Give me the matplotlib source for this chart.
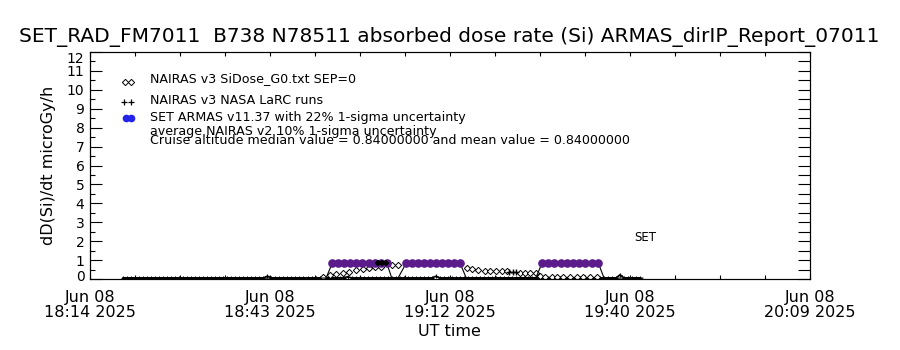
import numpy as np
import matplotlib
matplotlib.use("Agg")
import matplotlib.pyplot as plt
from matplotlib.ticker import MultipleLocator
from matplotlib.transforms import ScaledTranslation

# time in minutes after 18:14 UT, Jun 08 2025
tick_pos = [0, 28.75, 57.5, 86.25, 115]
tick_labels = ["Jun 08\n18:14 2025", "Jun 08\n18:43 2025", "Jun 08\n19:12 2025",
               "Jun 08\n19:40 2025", "Jun 08\n20:09 2025"]

# SET ARMAS v11.37 (1 min cadence, near zero outside the three cruise legs)
armas_t = [5.3, 37.7, 38.7, 39.6, 40.6, 41.5, 42.5, 43.5, 44.6, 45.5, 46.5, 47.4, 48.2,
           49.2, 50.5, 51.4, 52.4, 53.4, 54.3, 55.3, 56.2, 57.2, 58.1, 59.1, 60.1,
           71.2, 72.2, 73.2, 74.1, 75.2, 76.2, 77.2, 78.1, 79.1, 80.2, 81.2, 82.1, 88.3]
armas_v = [0.05, 0.05, 0.84, 0.84, 0.84, 0.84, 0.84, 0.84, 0.84, 0.84, 0.84, 0.84, 0.05,
           0.05, 0.84, 0.84, 0.84, 0.84, 0.84, 0.84, 0.84, 0.84, 0.84, 0.84, 0.05,
           0.05, 0.84, 0.84, 0.84, 0.84, 0.84, 0.84, 0.84, 0.84, 0.84, 0.84, 0.05, 0.05]

# NAIRAS v3 SiDose_G0.txt SEP=0
nairas_t = [37.2, 38.3, 39.3, 40.4, 41.4, 42.5, 43.6, 44.6, 45.5, 46.5, 48.2, 49.2,
            60.2, 61.0, 62.0, 63.1, 63.9, 64.9, 65.8, 66.6, 68.7, 69.5, 70.3, 71.2,
            71.9, 72.7, 73.8, 74.6, 75.6, 76.7, 77.8, 78.8, 79.9, 81.0]
nairas_v = [0.13, 0.21, 0.26, 0.32, 0.37, 0.48, 0.53, 0.58, 0.63, 0.66, 0.72, 0.72,
            0.60, 0.55, 0.46, 0.42, 0.41, 0.40, 0.40, 0.40, 0.33, 0.33, 0.32, 0.30,
            0.14, 0.13, 0.13, 0.12, 0.12, 0.12, 0.11, 0.11, 0.11, 0.10]

# NAIRAS v3 NASA LaRC runs: flat near zero, a few points off the baseline
larc_t = np.arange(5.3, 88.4, 0.64)
larc_base = 0.06
larc_bump_t = [28.4, 41.3, 55.0, 84.4]
larc_bump_v = [0.15, 0.12, 0.14, 0.22]
larc_hi_t = [46.0, 46.6, 47.2]
larc_hi_v = [0.84, 0.84, 0.84]
larc_mid_t = [66.9, 67.5, 68.1]
larc_mid_v = [0.37, 0.37, 0.37]

purple = "#5b1b8b"
blue = "#2424e8"

fig = plt.figure(figsize=(9, 3.5), dpi=100)
ax = fig.add_axes([0.1, 1 - 279 / 350, 0.8, 227 / 350])

larc_v = np.full(len(larc_t), larc_base)
for bt, bv in zip(larc_bump_t, larc_bump_v):
    larc_v[np.argmin(np.abs(larc_t - bt))] = bv
ax.plot(larc_t, larc_v, color="black", lw=1.2, marker="+", ms=3.5, mew=0.8)

ax.plot(nairas_t, nairas_v, ls="none", marker="D", ms=3.2, mfc="white",
        mec="black", mew=0.7)

armas_t = np.array(armas_t)
armas_v = np.array(armas_v)
ax.plot(armas_t, armas_v, color="black", lw=0.8)
on = armas_v > 0.5
ax.plot(armas_t[on], armas_v[on], ls="none", marker="o", ms=5.2, color=purple)

ax.plot(larc_hi_t, larc_hi_v, color="black", lw=3, marker="+", ms=5, mew=1.5)
ax.plot(larc_mid_t, larc_mid_v, color="black", lw=1, marker="+", ms=4, mew=1)

ax.text(88.7, 2.22, "SET", fontsize=8.5, ha="center", va="center")

ax.set_xlim(0, 115)
ax.set_ylim(0, 12)
ax.set_xticks(tick_pos)
ax.set_xticklabels(tick_labels, fontsize=11.5, linespacing=1.0)
ax.xaxis.set_minor_locator(MultipleLocator(28.75 / 4))
ax.tick_params(axis="x", which="both", direction="in", top=True, bottom=True,
               length=3, width=0.8, pad=8)
ax.set_yticks(range(0, 13))
ax.yaxis.set_minor_locator(MultipleLocator(0.5))
ax.tick_params(axis="y", which="major", direction="in", length=8.6, width=0.8,
               labelsize=10, pad=4)
ax.tick_params(axis="y", which="minor", direction="in", length=3.6, width=0.8)
# IDL pulls the end labels inside the axis range
labs = ax.get_yticklabels()
labs[0].set_transform(labs[0].get_transform() + ScaledTranslation(0, 3.5 / 100, fig.dpi_scale_trans))
labs[-1].set_transform(labs[-1].get_transform() + ScaledTranslation(0, -5.5 / 100, fig.dpi_scale_trans))

ax2 = ax.twinx()
ax2.set_ylim(0, 12)
ax2.set_yticks(np.arange(0, 12.01, 0.5))
ax2.set_yticklabels([])
ax2.tick_params(axis="y", direction="in", length=9, width=0.8)

for s in ax.spines.values():
    s.set_linewidth(0.8)

ax.set_ylabel("dD(Si)/dt microGy/h", fontsize=11.5)
ax.yaxis.set_label_coords(-0.047, 0.5)
fig.text(449 / 900, 1 - 332 / 350, "UT time", fontsize=11.5, ha="center", va="center")
fig.text(449 / 900, 1 - 37 / 350,
         "SET_RAD_FM7011  B738 N78511 absorbed dose rate (Si) ARMAS_dirIP_Report_07011",
         fontsize=14.5, ha="center", va="center")

# legend block drawn by hand (IDL style)
def px(x, y):
    return ((x - 90) / 720, (279 - y) / 227)

ax.plot(*zip(px(125, 82), px(131, 82)), ls="none", marker="D", ms=3.2, mfc="white",
        mec="black", mew=0.7, transform=ax.transAxes, clip_on=False)
ax.plot(*zip(px(124, 102), px(131, 102)), ls="none", marker="+", ms=4.5, mew=0.9,
        color="black", transform=ax.transAxes, clip_on=False)
ax.plot(*zip(px(126, 118), px(131, 118)), ls="none", marker="o", ms=4.5, color=blue,
        transform=ax.transAxes, clip_on=False)
legend_lines = [
    (79, "NAIRAS v3 SiDose_G0.txt SEP=0"),
    (100, "NAIRAS v3 NASA LaRC runs"),
    (118, "SET ARMAS v11.37 with 22% 1-sigma uncertainty"),
    (132, "average NAIRAS v2 10% 1-sigma uncertainty"),
    (140, "Cruise altitude median value = 0.84000000 and mean value = 0.84000000"),
]
for yy, txt in legend_lines:
    ax.text(*px(150, yy), txt, fontsize=9.1, ha="left", va="center",
            transform=ax.transAxes)

fig.savefig("out.png", dpi=100)
